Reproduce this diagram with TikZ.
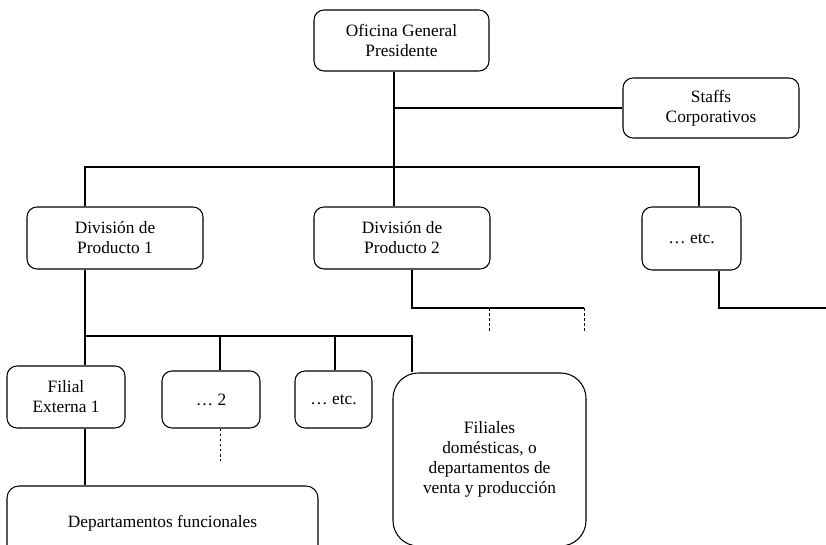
\documentclass[tikz,border=0pt]{standalone}
\usepackage{fontspec}
\setmainfont{Liberation Serif}
\usepackage{tikz}

\tikzset{
  unit/.style={draw, line width=0.8pt, rounded corners=7.5pt, align=center,
               inner sep=0pt, font=\fontsize{13}{15}\selectfont},
  link/.style={line width=0.8pt},
  dots/.style={line width=0.7pt, dash pattern=on 2pt off 1.8pt}
}

\begin{document}
\begin{tikzpicture}[x=0.75pt, y=-0.75pt]
                \useasboundingbox (0,0) rectangle (826,545);
                \clip (0,0) rectangle (826,545);
                % top level
                \node [unit, minimum width=175*0.75pt, minimum height=61*0.75pt] (ofi) at (401.5,40.5) {Oficina General\\Presidente};
                \node [unit, minimum width=176*0.75pt, minimum height=60*0.75pt] (staffs) at (711,108) {Staffs\\Corporativos};
                % divisions
                \node [unit, minimum width=176*0.75pt, minimum height=62*0.75pt] (div1) at (115,238) {División de\\Producto 1};
                \node [unit, minimum width=176*0.75pt, minimum height=62*0.75pt] (div2) at (402,238) {División de\\Producto 2};
                \node [unit, minimum width=99*0.75pt, minimum height=63*0.75pt] (etcdiv) at (691.5,238.5) {\dots\ etc.};
                % filiales
                \node [unit, minimum width=118*0.75pt, minimum height=62*0.75pt] (filial) at (66,397) {Filial\\Externa 1};
                \node [unit, minimum width=98*0.75pt, minimum height=57*0.75pt] (dos) at (211,399.5) {\dots\ 2};
                \node [unit, minimum width=77*0.75pt, minimum height=57*0.75pt] (etcfil) at (333.5,399.5) {\dots\ etc.};
                \node [unit, rounded corners=19pt, minimum width=193*0.75pt, minimum height=173*0.75pt] (filiales) at (489.5,459.5) {Filiales\\domésticas, o\\departamentos de\\venta y producción};
                \node [unit, rounded corners=9pt, minimum width=311*0.75pt, minimum height=74*0.75pt] (deptos) at (162.5,523) {Departamentos funcionales};

                % junctions
                \coordinate (bus) at (394,167);
                \coordinate (b1) at (85,167);
                \coordinate (b3) at (699,167);
                \coordinate (s1) at (85,336);
                \coordinate (s2) at (220,336);
                \coordinate (s3) at (335,336);
                \coordinate (s4) at (412,336);
                \coordinate (d2) at (220,461);
                \coordinate (p1) at (412,308);
                \coordinate (p2) at (489,308);
                \coordinate (p3) at (584,308);
                \coordinate (p2e) at (489,332);
                \coordinate (p3e) at (584,332);
                \coordinate (q1) at (719,308);
                \coordinate (q2) at (826,308);

                \draw [link] (bus |- ofi.south) -- (bus |- div2.north);
                \draw [link] (bus |- staffs.west) -- (staffs.west);
                \draw [link] (b1 |- div1.north) |- (b3) -- (b3 |- etcdiv.north);
                \draw [link] (s1 |- div1.south) -- (s1 |- filial.north);
                \draw [link] (s1) -- (s4) -- (s4 |- filiales.north);
                \draw [link] (s2) -- (s2 |- dos.north);
                \draw [link] (s3) -- (s3 |- etcfil.north);
                \draw [link] (s1 |- filial.south) -- (s1 |- deptos.north);
                \draw [dots] (d2 |- dos.south) -- (d2);
                \draw [link] (p1 |- div2.south) -- (p1) -- (p3);
                \draw [dots] (p2) -- (p2e) (p3) -- (p3e);
                \draw [link] (q1 |- etcdiv.south) -- (q1) -- (q2);
            \end{tikzpicture}
\end{document}
